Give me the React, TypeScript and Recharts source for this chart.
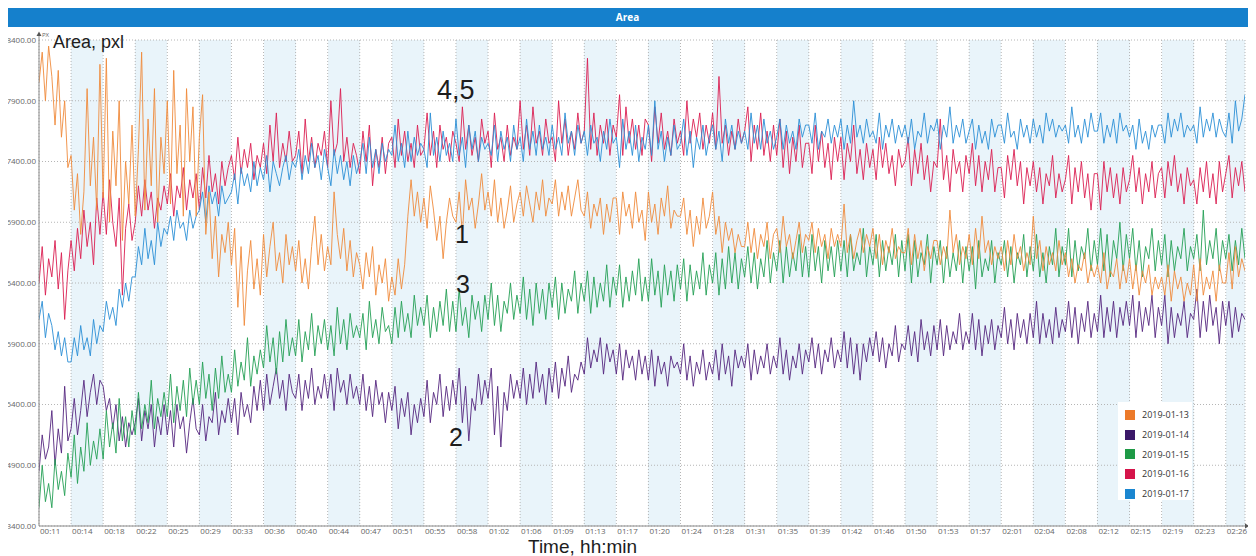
import React from 'react';
import { LineChart, Line, XAxis, YAxis, CartesianGrid } from 'recharts';

// time axis labels, one per grid column
const xLabels = [
  '00:11', '00:14', '00:18', '00:22', '00:25', '00:29', '00:33', '00:36', '00:40', '00:44',
  '00:47', '00:51', '00:55', '00:58', '01:02', '01:06', '01:09', '01:13', '01:17', '01:20',
  '01:24', '01:28', '01:31', '01:35', '01:39', '01:42', '01:46', '01:50', '01:53', '01:57',
  '02:01', '02:04', '02:08', '02:12', '02:15', '02:19', '02:23', '02:26',
];

const yTicks = [4400, 4900, 5400, 5900, 6400, 6900, 7400, 7900, 8400];
// the bottom label in the source figure reads 3400.00
const yTickLabels = ['3400.00', '4900.00', '5400.00', '5900.00', '6400.00', '6900.00', '7400.00', '7900.00', '8400.00'];

// samples: 10 per grid column
const day13 = [
  8050, 8300, 7900, 8350, 8100, 7700, 8150, 7600, 7900, 7350,
  7450, 7000, 7300, 6800, 7150, 8000, 7200, 7600, 7000, 8200,
  7100, 8250, 6900, 7650, 7200, 7900, 6750, 7400, 7050, 7700,
  6950, 7500, 8300, 7000, 7750, 7200, 8000, 6900, 7600, 7300,
  7900, 7050, 8150, 7300, 7700, 6950, 8000, 7400, 7850, 6950,
  7600, 7950, 6800, 7150, 6600, 6950, 6450, 6800, 6650, 6900,
  6550, 6850, 6200, 6700, 6050, 6500, 6750, 6350, 6600, 6300,
  6800, 6450, 6700, 6900, 6500, 6650, 6400, 6800, 6550, 6700,
  6500, 6750, 6400, 6600, 6350, 6700, 6950, 6550, 6800, 6500,
  6700, 6550, 7150, 6800, 6600, 6850, 6500, 6750, 6450, 6650,
  6550, 6350, 6650, 6450, 6700, 6300, 6550, 6400, 6600, 6250,
  6450, 6300, 6600, 6350, 6550, 6950, 7250, 6950, 7150, 6900,
  7100, 6850, 7200, 7000, 6750, 6950, 6600, 6900, 7100, 6950,
  6900, 7150, 6800, 7250, 7000, 7100, 6850, 7050, 7300, 7000,
  7150, 6950, 7250, 6900, 7100, 6850, 7000, 7200, 6900, 7050,
  7150, 6950, 7200, 7050, 6900, 7150, 7000, 7250, 6950, 7100,
  7050, 7250, 6950, 7150, 7000, 7200, 6950, 7100, 7250, 7000,
  6950, 7150, 6850, 7050, 6950, 7100, 6800, 7050, 6900, 7100,
  7100, 6800, 7150, 6950, 7050, 6850, 7150, 6900, 7000, 6750,
  7150, 6900, 7050, 6800, 7100, 6950, 7200, 6850, 7000, 6950,
  6950, 7100, 6800, 7000, 6700, 6950, 6800, 7100, 6850, 6950,
  7150, 6800, 6950, 6650, 6900, 6750, 6850, 6650, 6800, 6700,
  6700, 6900, 6650, 6850, 6600, 6800, 6700, 6900, 6600, 6800,
  6850, 6650, 6950, 6700, 6800, 6600, 6750, 6900, 6650, 6800,
  6750, 6900, 6650, 6850, 6700, 6800, 6600, 6850, 6700, 6800,
  6700, 7050, 6650, 6800, 6600, 6750, 6850, 6650, 6800, 6700,
  6850, 6600, 6800, 6550, 6750, 6650, 6850, 6600, 6700, 6650,
  6650, 6850, 6550, 6800, 6600, 6750, 6500, 6700, 6600, 6750,
  6750, 6550, 6700, 6600, 7000, 6650, 6800, 6550, 6700, 6600,
  6800, 6550, 6850, 6600, 6950, 6650, 6750, 6550, 6700, 6600,
  6700, 6500, 6750, 6550, 6800, 6600, 6700, 6500, 6650, 6550,
  6950, 6600, 6750, 6500, 6700, 6550, 6650, 6500, 6750, 6550,
  6650, 6450, 6600, 6400, 6550, 6500, 6650, 6400, 6550, 6450,
  6550, 6400, 6650, 6350, 6500, 6450, 6600, 6350, 6550, 6400,
  6600, 6350, 6550, 6300, 6500, 6400, 6550, 6300, 6450, 6350,
  6450, 6300, 6550, 6250, 6500, 6350, 6450, 6250, 6400, 6300,
  6550, 6250, 6600, 6300, 6450, 6350, 6500, 6250, 6550, 6400,
  6400, 6650, 6350, 6700, 6450, 6600, 6500,
];

const day14 = [
  4850, 5150, 4950, 5050, 5350, 4900, 5200, 5000, 5550, 5100,
  5200, 5450, 5150, 5350, 5600, 5300, 5500, 5650, 5400, 5600,
  5550, 5350, 5450, 5200, 5400, 5100, 5300, 5050, 5250, 5150,
  5250, 5450, 5100, 5350, 5200, 5400, 5050, 5300, 5150, 5400,
  5150, 5350, 5050, 5400, 5200, 5300, 5000, 5250, 5450, 5200,
  5150, 5400, 5100, 5300, 5250, 5500, 5150, 5350, 5250, 5450,
  5250, 5450, 5150, 5500, 5300, 5400, 5250, 5550, 5350, 5600,
  5350, 5650, 5400, 5550, 5700, 5450, 5600, 5350, 5650, 5500,
  5450, 5650, 5350, 5600, 5450, 5700, 5400, 5550, 5450, 5650,
  5450, 5650, 5350, 5700, 5500, 5600, 5400, 5650, 5450, 5550,
  5400, 5650, 5350, 5550, 5300, 5600, 5400, 5500, 5250, 5500,
  5350, 5550, 5200, 5450, 5300, 5500, 5150, 5400, 5250, 5450,
  5300, 5600, 5250, 5500, 5400, 5650, 5300, 5550, 5350, 5600,
  5400, 5700, 5250, 5550, 5100, 5450, 5350, 5650, 5400, 5600,
  5450, 5700, 5150, 5550, 5050, 5500, 5350, 5650, 5450, 5600,
  5450, 5700, 5400, 5650, 5450, 5750, 5500, 5650, 5400, 5700,
  5500, 5750, 5450, 5700, 5550, 5800, 5500, 5650, 5600, 5750,
  5650, 5950, 5700, 5850, 5750, 5950, 5650, 5900, 5750, 5850,
  5650, 5900, 5600, 5850, 5700, 5800, 5600, 5850, 5650, 5800,
  5600, 5850, 5550, 5800, 5650, 5750, 5550, 5800, 5700, 5750,
  5650, 5900, 5600, 5800, 5550, 5750, 5650, 5850, 5600, 5750,
  5650, 5850, 5600, 5900, 5650, 5800, 5550, 5850, 5700, 5800,
  5700, 5900, 5600, 5850, 5650, 5800, 5700, 5900, 5650, 5800,
  5700, 5950, 5650, 5850, 5600, 5800, 5700, 5900, 5650, 5850,
  5750, 5950, 5700, 5900, 5650, 5850, 5750, 5950, 5700, 5850,
  5750, 6000, 5700, 5950, 5650, 5900, 5600, 5900, 5750, 5950,
  5800, 6000, 5750, 5950, 5700, 5900, 5800, 6050, 5750, 5900,
  5850, 6050, 5800, 6000, 5750, 6100, 5850, 6000, 5800, 6050,
  5850, 6100, 5800, 6050, 5850, 6000, 5900, 6150, 5850, 6000,
  5900, 6150, 5850, 6100, 5800, 6050, 5900, 6100, 5850, 6050,
  5950, 6200, 5900, 6100, 5850, 6150, 5950, 6100, 5900, 6150,
  5950, 6250, 5900, 6150, 5950, 6100, 5900, 6200, 5950, 6100,
  6000, 6250, 5950, 6200, 5900, 6150, 6000, 6250, 5950, 6150,
  6000, 6300, 5950, 6200, 6000, 6250, 5950, 6200, 6050, 6250,
  6050, 6300, 5950, 6250, 6000, 6200, 6050, 6300, 5950, 6200,
  6050, 6300, 5900, 6200, 5950, 6150, 6050, 6250, 5950, 6150,
  6100, 6350, 5950, 6250, 6000, 6300, 6050, 6200, 5900, 6250,
  6050, 6250, 5950, 6200, 6000, 6150, 6100,
];

const day15 = [
  4550, 4900, 4600, 4750, 4550, 4950, 4700, 4850, 4650, 5000,
  4800, 5150, 4750, 5050, 4850, 5250, 4900, 5100, 4950, 5200,
  4950, 5350, 5050, 5250, 5000, 5450, 5100, 5300, 5050, 5350,
  5150, 5500, 5200, 5400, 5250, 5600, 5200, 5450, 5300, 5500,
  5300, 5650, 5250, 5550, 5350, 5600, 5300, 5700, 5400, 5600,
  5400, 5750, 5450, 5650, 5350, 5700, 5450, 5800, 5500, 5650,
  5500, 5850, 5550, 5750, 5600, 5950, 5550, 5800, 5650, 5850,
  5700, 6050, 5750, 5950, 5650, 6000, 5750, 6100, 5800, 5950,
  5800, 6100, 5750, 6000, 5850, 6150, 5800, 6050, 5900, 6100,
  5850, 6050, 5800, 6200, 5900, 6100, 5850, 6150, 5950, 6050,
  5950, 6150, 5850, 6250, 5950, 6100, 5900, 6200, 6000, 6050,
  5900, 6200, 5950, 6250, 6000, 6150, 5950, 6300, 6050, 6200,
  6050, 6300, 5950, 6200, 6000, 6250, 6050, 6350, 6000, 6250,
  6000, 6350, 6050, 6200, 5950, 6300, 6100, 6250, 6000, 6300,
  6100, 6400, 6050, 6300, 6000, 6250, 6150, 6400, 6100, 6300,
  6150, 6450, 6100, 6350, 6050, 6400, 6150, 6350, 6100, 6400,
  6200, 6450, 6100, 6400, 6150, 6350, 6250, 6500, 6150, 6400,
  6250, 6500, 6150, 6450, 6200, 6400, 6250, 6550, 6200, 6450,
  6300, 6550, 6200, 6450, 6250, 6500, 6300, 6600, 6250, 6450,
  6250, 6600, 6300, 6500, 6200, 6550, 6300, 6500, 6250, 6550,
  6350, 6600, 6250, 6550, 6300, 6500, 6350, 6650, 6300, 6550,
  6400, 6650, 6300, 6600, 6350, 6700, 6400, 6650, 6350, 6600,
  6450, 6700, 6400, 6650, 6350, 6600, 6450, 6750, 6400, 6650,
  6500, 6750, 6400, 6700, 6450, 6650, 6500, 6800, 6450, 6700,
  6450, 6800, 6500, 6700, 6400, 6750, 6500, 6700, 6450, 6750,
  6500, 6750, 6450, 6800, 6500, 6650, 6550, 6850, 6450, 6700,
  6550, 6800, 6450, 6750, 6500, 6700, 6550, 6800, 6450, 6750,
  6500, 6800, 6400, 6750, 6450, 6650, 6550, 6800, 6400, 6700,
  6550, 6750, 6400, 6700, 6450, 6650, 6500, 6750, 6400, 6700,
  6500, 6700, 6350, 6750, 6450, 6600, 6500, 6750, 6400, 6650,
  6550, 6750, 6450, 6700, 6400, 6650, 6550, 6800, 6450, 6700,
  6500, 6800, 6450, 6650, 6400, 6700, 6550, 6850, 6450, 6700,
  6550, 6850, 6450, 6750, 6500, 6700, 6600, 6850, 6500, 6750,
  6550, 6850, 6500, 6800, 6450, 6750, 6600, 6900, 6500, 6800,
  6600, 6850, 6500, 6750, 6450, 6700, 6600, 6850, 6500, 6750,
  6550, 6800, 6450, 6750, 6500, 6700, 6600, 6850, 6500, 6700,
  6600, 6800, 6500, 7000, 6550, 6750, 6600, 6850, 6500, 6750,
  6600, 6800, 6500, 6750, 6550, 6850, 6600,
];

const day16 = [
  6400, 6700, 6300, 6600, 6450, 6750, 6350, 6650, 6100, 6500,
  6750, 6500, 6850, 6600, 7000, 6700, 6900, 6550, 7100, 6800,
  7150, 6800, 7250, 6900, 6700, 7100, 6300, 6850, 7050, 6750,
  6900, 7200, 6950, 7250, 7000, 7150, 6850, 7100, 7000, 7200,
  7050, 7300, 6950, 7200, 7100, 7350, 7000, 7250, 7100, 7300,
  7000, 7350, 7100, 7450, 7150, 7300, 7050, 7400, 7200, 7350,
  7450, 7250, 7600, 7300, 7500, 7350, 7550, 7250, 7450, 7350,
  7550, 7300, 7700, 7400, 7800, 7350, 7550, 7400, 7650, 7400,
  7450, 7650, 7300, 7750, 7400, 7600, 7350, 7550, 7450, 7650,
  7350, 7900, 7450, 7550, 8000, 7400, 7600, 7350, 7550, 7450,
  7300, 7650, 7400, 7700, 7200, 7500, 7350, 7600, 7300, 7550,
  7600, 7350, 7750, 7450, 7650, 7400, 7550, 7350, 7700, 7450,
  7500, 7800, 7450, 7650, 7350, 7700, 7500, 7600, 7400, 7650,
  7550, 7400, 7850, 7500, 7700, 7450, 7600, 7400, 7750, 7550,
  7650, 7350, 7800, 7500, 7600, 7400, 7700, 7450, 7600, 7500,
  7900, 7500, 7700, 7450, 7850, 7550, 7650, 7450, 7750, 7550,
  7600, 7400, 7900, 7550, 7750, 7450, 7650, 7500, 7800, 7550,
  7650, 8250, 7500, 7800, 7450, 7700, 7550, 7750, 7450, 7700,
  7600, 7950, 7450, 7850, 7550, 7750, 7500, 7700, 7450, 7750,
  7700, 7400, 7850, 7550, 7800, 7500, 7650, 7450, 7750, 7550,
  7650, 7450, 7900, 7550, 7750, 7600, 7800, 7500, 7700, 7550,
  7800, 7500, 8100, 7550, 7700, 7450, 7650, 7500, 7750, 7550,
  7650, 7850, 7400, 7700, 7500, 7800, 7450, 7650, 7400, 7700,
  7450, 7750, 7350, 7650, 7300, 7600, 7400, 7700, 7350, 7550,
  7550, 7300, 7700, 7400, 7650, 7350, 7550, 7250, 7600, 7400,
  7600, 7250, 7550, 7400, 7700, 7300, 7500, 7250, 7550, 7350,
  7500, 7250, 7600, 7350, 7550, 7300, 7450, 7200, 7500, 7350,
  7400, 7600, 7200, 7500, 7300, 7550, 7250, 7450, 7150, 7400,
  7350, 7750, 7250, 7450, 7150, 7500, 7300, 7400, 7150, 7450,
  7300, 7550, 7200, 7450, 7150, 7400, 7250, 7500, 7150, 7350,
  7350, 7100, 7450, 7250, 7500, 7200, 7400, 7050, 7350, 7200,
  7400, 7150, 7350, 7050, 7300, 7200, 7450, 7100, 7300, 7150,
  7250, 7450, 7050, 7350, 7150, 7400, 7100, 7300, 7000, 7300,
  7300, 7000, 7400, 7150, 7350, 7100, 7300, 7050, 7350, 7150,
  7250, 7450, 7150, 7350, 7050, 7300, 7150, 7400, 7100, 7300,
  7350, 7100, 7400, 7200, 7450, 7150, 7300, 7050, 7350, 7200,
  7250, 7050, 7350, 7150, 7400, 7100, 7300, 7050, 7400, 7150,
  7300, 7450, 7100, 7350, 7200, 7400, 7150,
];

const day17 = [
  6100, 6250, 5950, 6150, 6050, 5850, 6000, 5800, 5950, 5750,
  5750, 5950, 5800, 6050, 5850, 5950, 5800, 6100, 5900, 6050,
  6000, 6250, 6100, 6200, 6050, 6350, 6200, 6400, 6250, 6450,
  6450, 6700, 6550, 6850, 6600, 6750, 6550, 6900, 6700, 6850,
  6800, 6950, 6750, 7000, 6850, 6900, 6750, 7000, 6850, 6950,
  7000, 7150, 6900, 7200, 7050, 7150, 6950, 7200, 7050, 7100,
  7150, 7300, 7050, 7350, 7200, 7300, 7150, 7400, 7200, 7350,
  7250, 7450, 7150, 7400, 7300, 7200, 7350, 7450, 7250, 7400,
  7350, 7500, 7250, 7450, 7300, 7550, 7350, 7450, 7250, 7500,
  7350, 7200, 7500, 7300, 7450, 7250, 7400, 7200, 7450, 7300,
  7400, 7550, 7300, 7600, 7350, 7500, 7300, 7550, 7400, 7500,
  7450, 7700, 7400, 7550, 7350, 7650, 7400, 7600, 7450, 7550,
  7500, 7350, 7800, 7450, 7600, 7400, 7650, 7450, 7550, 7400,
  7750, 7450, 7600, 7350, 7700, 7500, 7650, 7400, 7600, 7500,
  7550, 7450, 7700, 7400, 7650, 7500, 7600, 7400, 7700, 7500,
  7600, 7400, 7750, 7500, 7650, 7450, 7700, 7500, 7600, 7450,
  7700, 7500, 7600, 7450, 7800, 7550, 7650, 7450, 7700, 7550,
  7650, 7450, 7700, 7550, 7600, 7400, 7650, 7500, 7750, 7550,
  7600, 7350, 7750, 7500, 7650, 7450, 7700, 7400, 7600, 7500,
  7700, 7450, 7900, 7500, 7650, 7400, 7600, 7450, 7700, 7500,
  7550, 7750, 7450, 7650, 7350, 7600, 7500, 7700, 7450, 7600,
  7700, 7500, 7650, 7400, 7750, 7550, 7700, 7500, 7650, 7550,
  7650, 7500, 7800, 7550, 7700, 7500, 7750, 7550, 7650, 7500,
  7600, 7750, 7500, 7700, 7550, 7650, 7500, 7750, 7600, 7700,
  7700, 7550, 7800, 7500, 7650, 7600, 7750, 7550, 7700, 7600,
  7750, 7500, 7700, 7550, 7900, 7600, 7700, 7550, 7750, 7600,
  7650, 7550, 7800, 7500, 7700, 7600, 7750, 7550, 7700, 7600,
  7700, 7550, 7750, 7500, 7650, 7600, 7800, 7550, 7700, 7650,
  7750, 7500, 7700, 7600, 7850, 7550, 7700, 7600, 7750, 7550,
  7650, 7750, 7500, 7700, 7550, 7650, 7500, 7750, 7600, 7700,
  7700, 7550, 7800, 7600, 7650, 7500, 7750, 7600, 7700, 7550,
  7750, 7600, 7700, 7550, 7800, 7650, 7750, 7600, 7700, 7650,
  7700, 7550, 7850, 7600, 7700, 7550, 7750, 7600, 7800, 7650,
  7650, 7800, 7550, 7700, 7600, 7750, 7550, 7800, 7650, 7700,
  7600, 7700, 7500, 7750, 7550, 7650, 7500, 7700, 7600, 7700,
  7700, 7550, 7800, 7600, 7750, 7650, 7800, 7600, 7700, 7650,
  7700, 7550, 7850, 7600, 7750, 7650, 7800, 7600, 7750, 7650,
  7600, 7800, 7550, 7900, 7650, 7750, 7950,
];

const SAMPLES_PER_COLUMN = 10;

const series = [
  { key: 'd13', name: '2019-01-13', values: day13, stroke: '#ef8b3c', swatch: '#ec7a2a' },
  { key: 'd14', name: '2019-01-14', values: day14, stroke: '#55277f', swatch: '#3b1868' },
  { key: 'd15', name: '2019-01-15', values: day15, stroke: '#25a055', swatch: '#1e9a46' },
  { key: 'd16', name: '2019-01-16', values: day16, stroke: '#da1f52', swatch: '#d5144a' },
  { key: 'd17', name: '2019-01-17', values: day17, stroke: '#2b8fd6', swatch: '#1a86d0' },
];

// draw order: back to front
const drawOrder = ['d14', 'd15', 'd16', 'd17', 'd13'];

const data = day13.map((_, i) => {
  const row: Record<string, number> = { t: i / SAMPLES_PER_COLUMN };
  series.forEach((s) => {
    row[s.key] = s.values[i];
  });
  return row;
});

const xTicks = xLabels.map((_, i) => i);
const xMax = (day13.length - 1) / SAMPLES_PER_COLUMN;

const XTick = (props: any) => {
  const { x, y, payload } = props;
  return (
    <text x={x + 1} y={y + 6} fontSize={8} fill="#666" textAnchor="start" fontFamily="'Open Sans', sans-serif">
      {xLabels[payload.value]}
    </text>
  );
};

const annot: React.CSSProperties = {
  position: 'absolute',
  fontFamily: "'Liberation Sans', Arial, sans-serif",
  color: '#1d1d1d',
  lineHeight: 1,
  whiteSpace: 'nowrap',
};

export default function App() {
  return (
    <div
      style={{
        position: 'relative', width: 1256, height: 556, marginLeft: -8, marginTop: -8,
        fontFamily: "'Open Sans', sans-serif", overflow: 'hidden',
      }}
    >
      <div
        style={{
          position: 'absolute', left: 7, top: 7, width: 1241, height: 20, background: '#1580cc',
          color: '#fff', fontSize: 10, fontWeight: 700, textAlign: 'center', lineHeight: '20px',
        }}
      >
        Area
      </div>

      <LineChart width={1256} height={556} data={data} margin={{ top: 40, right: 11, bottom: 0, left: 0 }}>
        <CartesianGrid
          stroke="#b5b5b5"
          strokeDasharray="1 2"
          verticalFill={['#ffffff', '#e9f4fa']}
          fillOpacity={1}
        />
        <XAxis
          type="number"
          dataKey="t"
          domain={[0, xMax]}
          ticks={xTicks}
          interval={0}
          tick={<XTick />}
          tickLine={false}
          tickSize={0}
          height={30}
          axisLine={{ stroke: '#8a8a8a' }}
          allowDataOverflow
        />
        <YAxis
          type="number"
          domain={[4400, 8400]}
          ticks={yTicks}
          interval={0}
          width={39}
          tickLine={false}
          tickSize={0}
          tickMargin={3}
          tick={{ fontSize: 8, fill: '#666' }}
          tickFormatter={(v: number) => yTickLabels[yTicks.indexOf(v)]}
          axisLine={{ stroke: '#8a8a8a' }}
          allowDataOverflow
        />
        {drawOrder.map((k) => {
          const s = series.find((x) => x.key === k)!;
          return (
            <Line
              key={s.key}
              type="linear"
              dataKey={s.key}
              name={s.name}
              stroke={s.stroke}
              strokeWidth={1}
              strokeOpacity={0.9}
              dot={false}
              isAnimationActive={false}
            />
          );
        })}
      </LineChart>

      {/* axis arrows */}
      <svg width={1256} height={556} style={{ position: 'absolute', left: 0, top: 0, pointerEvents: 'none' }}>
        <line x1={39} y1={34} x2={39} y2={40} stroke="#8a8a8a" />
        <path d="M36.5 36 L39 31.5 L41.5 36 Z" fill="#555" />
        <text x={42} y={37} fontSize={6} fill="#666">PX</text>
        <line x1={1245} y1={526} x2={1247} y2={526} stroke="#8a8a8a" />
        <path d="M1245 523.5 L1249.5 526 L1245 528.5 Z" fill="#555" />
      </svg>

      <div style={{ ...annot, left: 53, top: 33, fontSize: 18 }}>Area, pxl</div>
      <div style={{ ...annot, left: 437, top: 77, fontSize: 27 }}>4,5</div>
      <div style={{ ...annot, left: 455, top: 222, fontSize: 25 }}>1</div>
      <div style={{ ...annot, left: 456, top: 272, fontSize: 25 }}>3</div>
      <div style={{ ...annot, left: 449, top: 425, fontSize: 25 }}>2</div>
      <div style={{ ...annot, left: 528, top: 537, fontSize: 19 }}>Time, hh:min</div>

      <div
        style={{
          position: 'absolute', left: 1118, top: 402, width: 74, height: 98, background: '#fff',
          boxSizing: 'border-box', paddingTop: 3,
        }}
      >
        {series.map((s) => (
          <div key={s.key} style={{ display: 'flex', alignItems: 'center', height: 19.7 }}>
            <div style={{ width: 10, height: 10, background: s.swatch, marginLeft: 7, marginRight: 7 }} />
            <span style={{ fontSize: 9, color: '#333' }}>{s.name}</span>
          </div>
        ))}
      </div>
    </div>
  );
}
